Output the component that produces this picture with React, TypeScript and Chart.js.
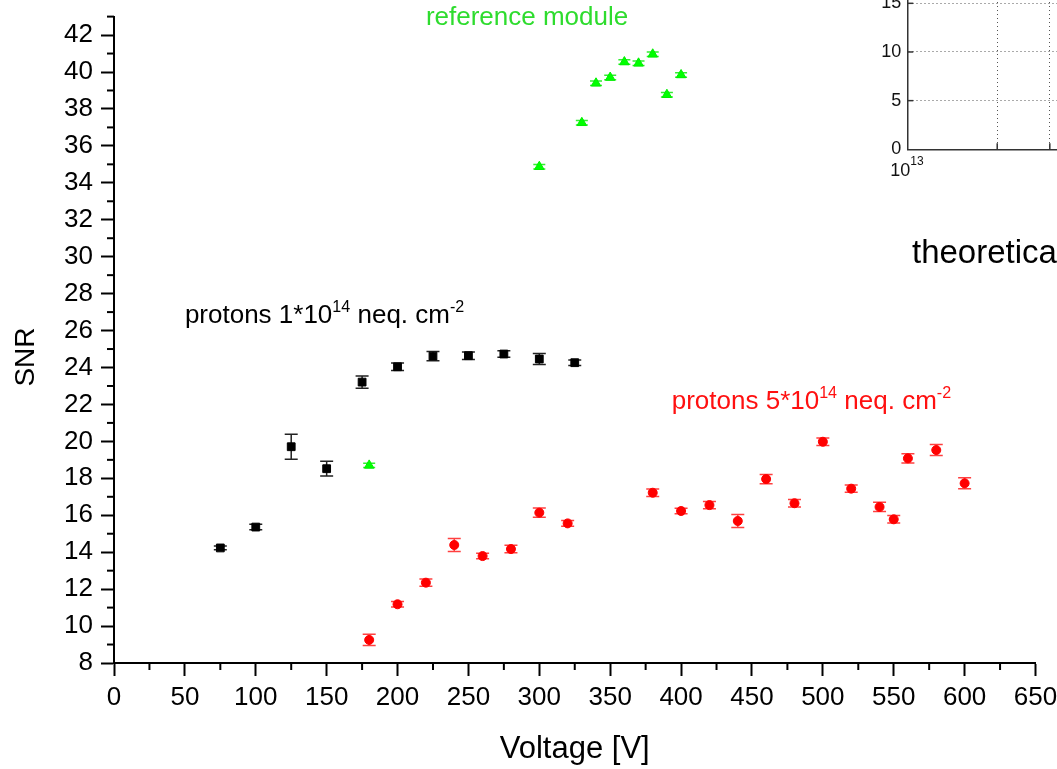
import React, { useEffect, useRef } from 'react';
import { Chart, registerables } from 'chart.js';

Chart.register(...registerables);

const FONT = 'Arial, "Liberation Sans", Helvetica, sans-serif';

// ---- data: protons 1*10^14 neq cm^-2 (black squares)
const protons1Voltage = [75, 100, 125, 150, 175, 200, 225, 250, 275, 300, 325];
const protons1SNR = [14.23, 15.36, 19.71, 18.52, 23.21, 24.04, 24.62, 24.64, 24.73, 24.46, 24.26];
const protons1Err = [0.1, 0.15, 0.68, 0.4, 0.33, 0.2, 0.25, 0.2, 0.18, 0.3, 0.15];

// ---- data: reference module (green triangles)
const referenceVoltage = [180, 300, 330, 340, 350, 360, 370, 380, 390, 400];
const referenceSNR = [18.7, 34.87, 37.25, 39.39, 39.7, 40.54, 40.47, 40.96, 38.77, 39.84];
const referenceErr = [0.12, 0.12, 0.12, 0.12, 0.12, 0.12, 0.12, 0.12, 0.12, 0.12];

// ---- data: protons 5*10^14 neq cm^-2 (red circles)
const protons5Voltage = [180, 200, 220, 240, 260, 280, 300, 320, 380, 400, 420, 440, 460, 480, 500, 520, 540, 550, 560, 580, 600];
const protons5SNR = [9.25, 11.18, 12.35, 14.39, 13.79, 14.17, 16.14, 15.56, 17.22, 16.23, 16.55, 15.69, 17.96, 16.65, 19.98, 17.44, 16.45, 15.78, 19.08, 19.53, 17.73];
const protons5Err = [0.3, 0.15, 0.2, 0.35, 0.15, 0.2, 0.25, 0.15, 0.2, 0.15, 0.2, 0.35, 0.25, 0.2, 0.2, 0.2, 0.25, 0.2, 0.25, 0.3, 0.3];

// ---- axes
const xMin = 0;
const xMax = 650;
const xStep = 50;
const yMin = 8;
const yMax = 43;
const yStep = 2;

// ---- inset axes (partially visible)
const insetXMin = 1e13;
const insetXMax = 1e14;
const insetXTicks = [1e13, 2e13, 3e13, 4e13, 5e13, 6e13, 7e13, 8e13, 9e13, 1e14];
const insetYMin = 0;
const insetYMax = 25;
const insetYStep = 5;

type Part = { t: string; sup?: boolean };

function drawRich(ctx: CanvasRenderingContext2D, parts: Part[], x: number, y: number, size: number, color: string) {
  let cx = x;
  ctx.save();
  ctx.fillStyle = color;
  ctx.textBaseline = 'alphabetic';
  ctx.textAlign = 'left';
  for (const p of parts) {
    const s = p.sup ? size * 0.62 : size;
    ctx.font = `${s}px ${FONT}`;
    ctx.fillText(p.t, cx, p.sup ? y - size * 0.44 : y);
    cx += ctx.measureText(p.t).width;
  }
  ctx.restore();
}

const annotations: { parts: Part[]; x: number; y: number; color: string }[] = [
  { parts: [{ t: 'reference module' }], x: 220, y: 42.54, color: '#2edc2e' },
  {
    parts: [{ t: 'protons 1*10' }, { t: '14', sup: true }, { t: ' neq. cm' }, { t: '-2', sup: true }],
    x: 50, y: 26.39, color: '#000000',
  },
  {
    parts: [{ t: 'protons 5*10' }, { t: '14', sup: true }, { t: ' neq. cm' }, { t: '-2', sup: true }],
    x: 393.4, y: 21.74, color: '#ff1010',
  },
];

const errorBarPlugin = {
  id: 'errorBars',
  beforeDatasetsDraw(chart: any) {
    const ctx = chart.ctx;
    const xs = chart.scales.x;
    const ys = chart.scales.y;
    chart.data.datasets.forEach((ds: any) => {
      const errs: number[] = ds.errors || [];
      ctx.save();
      ctx.strokeStyle = ds.errorColor;
      ctx.lineWidth = 1.5;
      ds.data.forEach((pt: any, i: number) => {
        const e = errs[i] || 0;
        const px = xs.getPixelForValue(pt.x);
        const top = ys.getPixelForValue(pt.y + e);
        const bot = ys.getPixelForValue(pt.y - e);
        const cw = ds.capWidth / 2;
        ctx.beginPath();
        ctx.moveTo(px, top);
        ctx.lineTo(px, bot);
        ctx.moveTo(px - cw, top);
        ctx.lineTo(px + cw, top);
        ctx.moveTo(px - cw, bot);
        ctx.lineTo(px + cw, bot);
        ctx.stroke();
      });
      ctx.restore();
    });
  },
};

const decorPlugin = {
  id: 'decor',
  afterDraw(chart: any) {
    const ctx = chart.ctx;
    const xs = chart.scales.x;
    const ys = chart.scales.y;
    const { left, bottom } = chart.chartArea;
    ctx.save();
    ctx.strokeStyle = '#000';
    ctx.lineWidth = 2;
    // minor ticks
    for (let v = xMin + xStep / 2; v < xMax; v += xStep) {
      const px = xs.getPixelForValue(v);
      ctx.beginPath();
      ctx.moveTo(px, bottom);
      ctx.lineTo(px, bottom + 7);
      ctx.stroke();
    }
    for (let v = yMin + yStep / 2; v <= yMax; v += yStep) {
      const py = ys.getPixelForValue(v);
      ctx.beginPath();
      ctx.moveTo(left, py);
      ctx.lineTo(left - 7, py);
      ctx.stroke();
    }
    ctx.restore();

    // y title
    ctx.save();
    ctx.translate(26, 357);
    ctx.rotate(-Math.PI / 2);
    ctx.font = `28px ${FONT}`;
    ctx.fillStyle = '#000';
    ctx.textAlign = 'center';
    ctx.textBaseline = 'middle';
    ctx.fillText('SNR', 0, 0);
    ctx.restore();

    // annotations
    annotations.forEach((a) => {
      drawRich(ctx, a.parts, xs.getPixelForValue(a.x), ys.getPixelForValue(a.y), 26, a.color);
    });

    // text belonging to the inset figure
    ctx.save();
    ctx.font = `33px ${FONT}`;
    ctx.fillStyle = '#000';
    ctx.textBaseline = 'alphabetic';
    ctx.fillText('theoretical', 912, 263);
    ctx.restore();
  },
};

const insetPlugin = {
  id: 'insetDecor',
  afterDraw(chart: any) {
    const ctx = chart.ctx;
    const xs = chart.scales.x;
    const ys = chart.scales.y;
    const { left, bottom } = chart.chartArea;
    ctx.save();
    ctx.strokeStyle = '#333';
    ctx.lineWidth = 1.5;
    ys.ticks.forEach((t: any) => {
      if (t.value === insetYMin) return;
      const py = ys.getPixelForValue(t.value);
      ctx.beginPath();
      ctx.moveTo(left, py);
      ctx.lineTo(left + 6, py);
      ctx.stroke();
    });
    xs.ticks.forEach((t: any) => {
      if (t.value === insetXMin) return;
      const px = xs.getPixelForValue(t.value);
      ctx.beginPath();
      ctx.moveTo(px, bottom);
      ctx.lineTo(px, bottom - 6);
      ctx.stroke();
    });
    ctx.restore();
    const px0 = xs.getPixelForValue(insetXMin);
    ctx.save();
    ctx.fillStyle = '#111';
    ctx.font = `18px ${FONT}`;
    ctx.textAlign = 'right';
    ctx.textBaseline = 'alphabetic';
    ctx.fillText('10', px0 + 3, bottom + 27);
    ctx.font = `12px ${FONT}`;
    ctx.textAlign = 'left';
    ctx.fillText('13', px0 + 3, bottom + 16);
    ctx.restore();
  },
};

function MainChart() {
  const ref = useRef<HTMLCanvasElement | null>(null);
  useEffect(() => {
    if (!ref.current) return;
    const chart = new Chart(ref.current, {
      type: 'scatter',
      data: {
        datasets: [
          {
            label: 'protons 5*10^14',
            data: protons5Voltage.map((x, i) => ({ x, y: protons5SNR[i] })),
            pointStyle: 'circle',
            pointRadius: 4.5,
            backgroundColor: '#ff0000',
            borderColor: '#ff0000',
            borderWidth: 1,
            errors: protons5Err,
            errorColor: '#ff4040',
            capWidth: 13,
          } as any,
          {
            label: 'protons 1*10^14',
            data: protons1Voltage.map((x, i) => ({ x, y: protons1SNR[i] })),
            pointStyle: 'rect',
            pointRadius: 5.5,
            backgroundColor: '#000000',
            borderColor: '#000000',
            borderWidth: 1,
            errors: protons1Err,
            errorColor: '#222222',
            capWidth: 13,
          } as any,
          {
            label: 'reference module',
            data: referenceVoltage.map((x, i) => ({ x, y: referenceSNR[i] })),
            pointStyle: 'triangle',
            pointRadius: 5.5,
            backgroundColor: '#00ff00',
            borderColor: '#00ee00',
            borderWidth: 1,
            errors: referenceErr,
            errorColor: '#33ee33',
            capWidth: 12,
          } as any,
        ],
      },
      options: {
        animation: false,
        responsive: false,
        maintainAspectRatio: false,
        layout: { padding: { left: 0, right: 21.5, top: 16.6, bottom: 0 } },
        plugins: { legend: { display: false }, tooltip: { enabled: false } },
        scales: {
          x: {
            type: 'linear',
            min: xMin,
            max: xMax,
            afterFit: (s: any) => { s.height = 106; s.paddingLeft = 0; s.paddingRight = 0; },
            border: { display: true, color: '#000', width: 2 },
            grid: { drawOnChartArea: false, drawTicks: true, tickLength: 13, tickWidth: 2, tickColor: '#000' },
            ticks: { stepSize: xStep, color: '#000', font: { family: FONT, size: 26 }, padding: 6, maxRotation: 0, includeBounds: false },
            title: { display: true, text: 'Voltage [V]', color: '#000', font: { family: FONT, size: 31 }, padding: { top: 0, bottom: 1 } },
          },
          y: {
            type: 'linear',
            min: yMin,
            max: yMax,
            afterFit: (s: any) => { s.width = 114; s.paddingTop = 0; s.paddingBottom = 0; },
            border: { display: true, color: '#000', width: 2 },
            grid: { drawOnChartArea: false, drawTicks: true, tickLength: 13, tickWidth: 2, tickColor: '#000' },
            ticks: { stepSize: yStep, color: '#000', font: { family: FONT, size: 26 }, padding: 8, includeBounds: false },
          },
        },
      } as any,
      plugins: [errorBarPlugin, decorPlugin],
    });
    return () => chart.destroy();
  }, []);
  return <canvas ref={ref} width={1057} height={769} style={{ position: 'absolute', left: 0, top: 0, width: 1057, height: 769 }} />;
}

function InsetChart() {
  const ref = useRef<HTMLCanvasElement | null>(null);
  useEffect(() => {
    if (!ref.current) return;
    const chart = new Chart(ref.current, {
      type: 'scatter',
      data: { datasets: [{ data: [] as any[] }] },
      options: {
        animation: false,
        responsive: false,
        maintainAspectRatio: false,
        layout: { padding: { left: 0, right: 134, top: 56, bottom: 0 } },
        plugins: { legend: { display: false }, tooltip: { enabled: false } },
        scales: {
          x: {
            type: 'logarithmic',
            min: insetXMin,
            max: insetXMax,
            afterBuildTicks: (s: any) => { s.ticks = insetXTicks.map((value) => ({ value })); },
            afterFit: (s: any) => { s.height = 60.7; s.paddingLeft = 0; s.paddingRight = 0; },
            border: { display: true, color: '#333', width: 1.5, dash: [1, 3] },
            grid: { drawOnChartArea: true, drawTicks: false, color: '#555', lineWidth: 1 },
            ticks: { display: false },
          },
          y: {
            type: 'linear',
            min: insetYMin,
            max: insetYMax,
            afterFit: (s: any) => { s.width = 67.3; s.paddingTop = 0; s.paddingBottom = 0; },
            border: { display: true, color: '#333', width: 1.5, dash: [1, 3] },
            grid: { drawOnChartArea: true, drawTicks: false, color: '#555', lineWidth: 1 },
            ticks: { stepSize: insetYStep, color: '#111', font: { family: FONT, size: 18 }, padding: 6 },
          },
        },
      } as any,
      plugins: [insetPlugin],
    });
    return () => chart.destroy();
  }, []);
  return <canvas ref={ref} width={500} height={360} style={{ position: 'absolute', left: 840, top: -150, width: 500, height: 360 }} />;
}

export default function App() {
  return (
    <div style={{ position: 'fixed', left: 0, top: 0, width: 1057, height: 769, overflow: 'hidden', background: '#fff' }}>
      <MainChart />
      <InsetChart />
    </div>
  );
}
